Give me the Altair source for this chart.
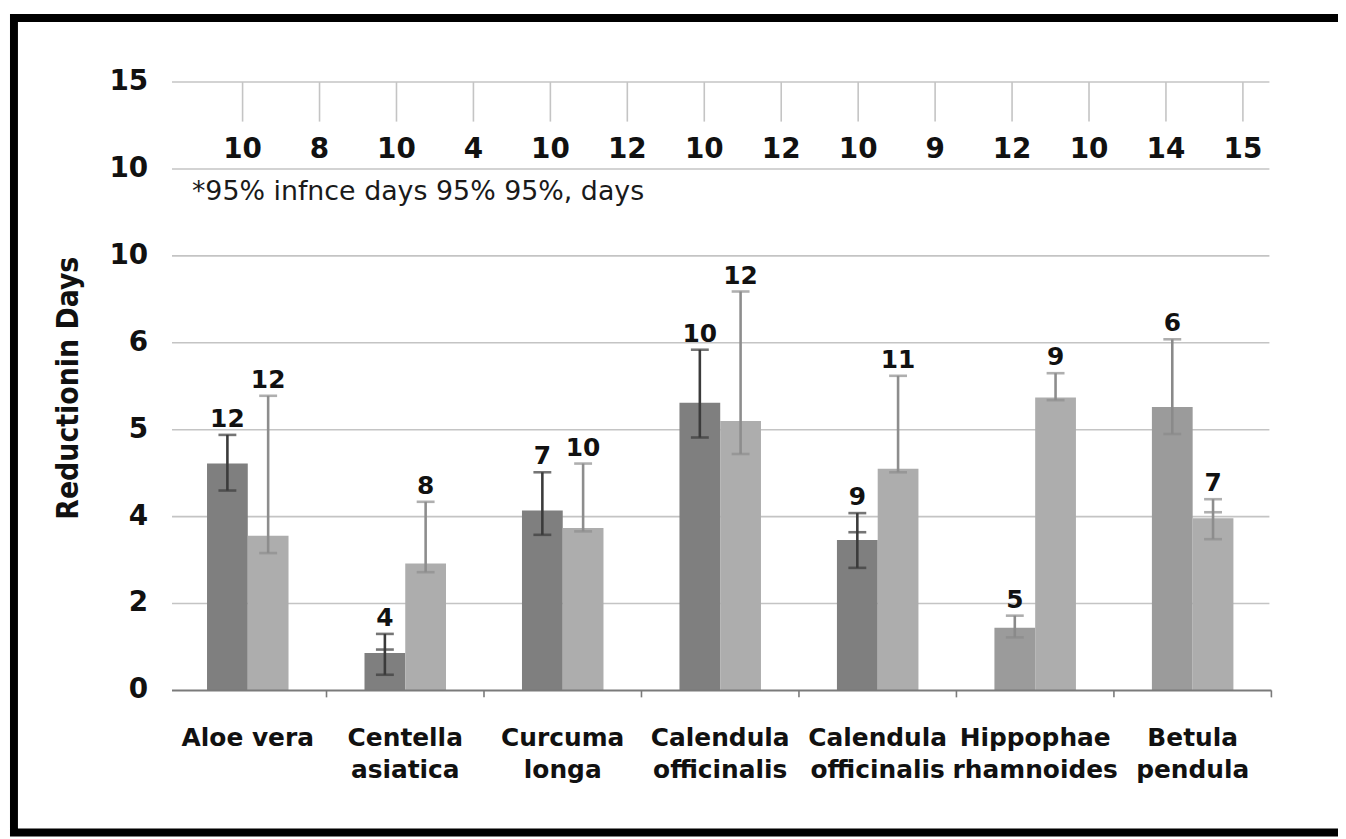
import altair as alt
import pandas as pd

# ---------------- data ----------------
plants = ["Aloe vera", "Centella asiatica", "Curcuma longa", "Calendula officinalis",
          "Calendula officinalis", "Hippophae rhamnoides", "Betula pendula"]
label_lines = [["Aloe vera"], ["Centella", "asiatica"], ["Curcuma", "longa"],
               ["Calendula", "officinalis"], ["Calendula", "officinalis"],
               ["Hippophae", "rhamnoides"], ["Betula", "pendula"]]

# the y axis has 8 evenly spaced gridlines with these (odd) labels;
# values below are expressed in gridline units (0 = bottom line, 7 = top line)
y_tick_labels = ["0", "2", "4", "5", "6", "10", "10", "15"]
y_title = "Reductionin Days"

dark_mean = [2.61, 0.43, 2.07, 3.31, 1.73, 0.72, 3.26]
dark_low = [2.30, 0.18, 1.79, 2.91, 1.41, 0.61, 2.95]
dark_high = [2.94, 0.65, 2.51, 3.92, 2.04, 0.86, 4.04]
dark_n = [12, 4, 7, 10, 9, 5, 6]
dark_group = ["dark", "dark", "dark", "dark", "dark", "mid", "mid"]

light_mean = [1.78, 1.46, 1.87, 3.10, 2.55, 3.37, 1.98]
light_low = [1.58, 1.36, 1.83, 2.72, 2.51, 3.34, 1.74]
light_high = [3.39, 2.17, 2.61, 4.59, 3.62, 3.65, 2.20]
light_n = [12, 8, 10, 12, 11, 9, 7]

extra_cap_dark = [None, 0.47, None, None, 1.82, None, None]
extra_cap_light = [None, None, None, None, None, None, 2.05]

top_numbers = ["10", "8", "10", "4", "10", "12", "10", "12", "10", "9", "12", "10", "14", "15"]
note_text = "*95% infnce days 95% 95%, days"

# ---------------- tables ----------------
rows = []
for i in range(len(plants)):
    rows.append(dict(idx=i, side=-1, mean=dark_mean[i], low=dark_low[i], high=dark_high[i],
                     n=dark_n[i], tone=dark_group[i]))
    rows.append(dict(idx=i, side=1, mean=light_mean[i], low=light_low[i], high=light_high[i],
                     n=light_n[i], tone="light"))
df = pd.DataFrame(rows)

extra_rows = []
for i in range(len(plants)):
    if extra_cap_dark[i] is not None:
        extra_rows.append(dict(idx=i, side=-1, cap=extra_cap_dark[i], tone=dark_group[i]))
    if extra_cap_light[i] is not None:
        extra_rows.append(dict(idx=i, side=1, cap=extra_cap_light[i], tone="light"))
extra_df = pd.DataFrame(extra_rows)

cat_df = pd.DataFrame({"idx": list(range(len(plants))),
                       "lab": ["\n".join(l) for l in label_lines]})
grid_df = pd.DataFrame({"g": list(range(len(y_tick_labels))), "lab": y_tick_labels})
xtick_df = pd.DataFrame({"t": list(range(1, len(plants) + 1))})
top_df = pd.DataFrame({"k": list(range(len(top_numbers))), "num": top_numbers})
note_df = pd.DataFrame({"t": [note_text]})
title_df = pd.DataFrame({"t": [y_title]})

FONT = "DejaVu Sans"
FONT_C = "DejaVu Sans Condensed, DejaVu Sans"
W, H = 1109, 612
NCAT = len(plants)
STEP = W / NCAT
BARW = 41 / STEP            # one bar's width, in category units
TOP0, TOPSTEP = 74 / STEP, 77.41 / STEP   # layout of the top strip, in category units

yscale = alt.Scale(domain=[0, 7], nice=False, zero=True)
xscale = alt.Scale(domain=[0, NCAT], nice=False, zero=False)

tone_dom = ["dark", "mid", "light"]
bar_fill = alt.Fill("tone:N", scale=alt.Scale(domain=tone_dom, range=["#7f7f7f", "#9b9b9b", "#adadad"]), legend=None)
err_stroke = alt.Stroke("tone:N", scale=alt.Scale(domain=tone_dom, range=["#3b3b3b", "#8a8a8a", "#8d8d8d"]), legend=None)
err_color = alt.Color("tone:N", scale=alt.Scale(domain=tone_dom, range=["#3b3b3b", "#8a8a8a", "#8d8d8d"]), legend=None)

# ---------------- axes drawn as marks ----------------
grid = alt.Chart(grid_df).transform_filter("datum.g > 0").mark_rule(
    color="#c4c4c4", strokeWidth=1.6
).encode(
    y=alt.Y("g:Q", scale=yscale, axis=None),
    x=alt.value(3), x2=alt.value(W - 2),
)
xdomain = alt.Chart(grid_df).transform_filter("datum.g == 0").mark_rule(
    color="#7a7a7a", strokeWidth=2
).encode(
    y=alt.Y("g:Q", scale=yscale, axis=None),
    x=alt.value(3), x2=alt.value(W),
)
xticks = alt.Chart(xtick_df).mark_rule(color="#7a7a7a", strokeWidth=1.6).encode(
    x=alt.X("t:Q", scale=xscale, axis=None),
    y=alt.value(H), y2=alt.value(H + 7),
)
ylabels = alt.Chart(grid_df).mark_text(
    font=FONT, fontSize=28, fontWeight="bold", align="right", baseline="middle", color="#111111"
).encode(
    y=alt.Y("g:Q", scale=yscale, axis=None),
    x=alt.value(-21),
    text="lab:N",
)
ytitle = alt.Chart(title_df).mark_text(
    font=FONT_C, fontSize=30, fontWeight="bold", angle=270, align="center",
    baseline="middle", color="#111111"
).encode(
    x=alt.value(-101), y=alt.value(H / 2 + 2), text="t:N",
)
cat_labels = alt.Chart(cat_df).transform_calculate(xm="datum.idx + 0.5").mark_text(
    font=FONT, fontSize=25, fontWeight="bold", baseline="alphabetic", lineBreak="\n",
    lineHeight=32, color="#111111"
).encode(
    x=alt.X("xm:Q", scale=xscale, axis=None),
    y=alt.value(H + 56),
    text="lab:N",
)

# ---------------- bars, error bars, counts ----------------
base = alt.Chart(df).transform_calculate(
    xa=f"datum.idx + 0.5 + (datum.side < 0 ? -{BARW} : 0)",
    xb=f"datum.idx + 0.5 + (datum.side < 0 ? 0 : {BARW})",
    xc=f"datum.idx + 0.5 + datum.side * {BARW / 2}",
)
bars = base.mark_bar().encode(
    x=alt.X("xa:Q", scale=xscale, axis=None), x2="xb:Q",
    y=alt.Y("mean:Q", scale=yscale, axis=None), y2=alt.datum(0),
    fill=bar_fill,
)
rules = base.mark_rule(strokeWidth=2.6).encode(
    x=alt.X("xc:Q", scale=xscale, axis=None),
    y=alt.Y("low:Q", scale=yscale, axis=None), y2="high:Q",
    stroke=err_stroke,
)
caps = base.transform_fold(["low", "high"], as_=["end", "v"]).mark_tick(
    size=18, thickness=2.6, orient="horizontal"
).encode(
    x=alt.X("xc:Q", scale=xscale, axis=None),
    y=alt.Y("v:Q", scale=yscale, axis=None),
    color=err_color,
)
extra = alt.Chart(extra_df).transform_calculate(
    xc=f"datum.idx + 0.5 + datum.side * {BARW / 2}",
).mark_tick(size=18, thickness=2.6, orient="horizontal").encode(
    x=alt.X("xc:Q", scale=xscale, axis=None),
    y=alt.Y("cap:Q", scale=yscale, axis=None),
    color=err_color,
)
labels = base.mark_text(
    font=FONT, fontSize=25, fontWeight="bold", baseline="alphabetic", dy=-8, color="#111111"
).encode(
    x=alt.X("xc:Q", scale=xscale, axis=None),
    y=alt.Y("high:Q", scale=yscale, axis=None),
    text="n:Q",
)

# ---------------- top strip of numbers hanging from the top gridline ----------------
topbase = alt.Chart(top_df).transform_calculate(px=f"{TOP0} + datum.k * {TOPSTEP}")
top_ticks = topbase.mark_rule(color="#c4c4c4", strokeWidth=1.6).encode(
    x=alt.X("px:Q", scale=xscale, axis=None),
    y=alt.YDatum(7, scale=yscale, axis=None), y2=alt.datum(6.545),
)
top_text = topbase.mark_text(
    font=FONT, fontSize=28, fontWeight="bold", baseline="alphabetic", color="#111111"
).encode(
    x=alt.X("px:Q", scale=xscale, axis=None),
    y=alt.YDatum(6.13, scale=yscale, axis=None),
    text="num:N",
)
note = alt.Chart(note_df).mark_text(
    font=FONT, fontSize=27, align="left", baseline="alphabetic", color="#1a1a1a"
).encode(
    x=alt.XDatum(23 / STEP, scale=xscale, axis=None),
    y=alt.YDatum(5.64, scale=yscale, axis=None),
    text="t:N",
)

# ---------------- black picture frame ----------------
frame = alt.Chart(pd.DataFrame({"z": [0]})).mark_rect(
    fill="transparent", stroke="#000000", strokeWidth=8
).encode(
    x=alt.value(-156), x2=alt.value(1190), y=alt.value(-64.5), y2=alt.value(755)
)

chart = alt.layer(
    grid, bars, rules, caps, extra, labels, xdomain, xticks, ylabels, ytitle, cat_labels,
    top_ticks, top_text, note, frame
).properties(
    width=W, height=H,
    autosize=alt.AutoSizeParams(type="none"),
    padding={"left": 162, "top": 72, "right": 67, "bottom": 147},
    background="white",
).configure(font=FONT).configure_view(strokeWidth=0)

chart.save("out.html", embed_options={"renderer": "svg", "actions": False})
